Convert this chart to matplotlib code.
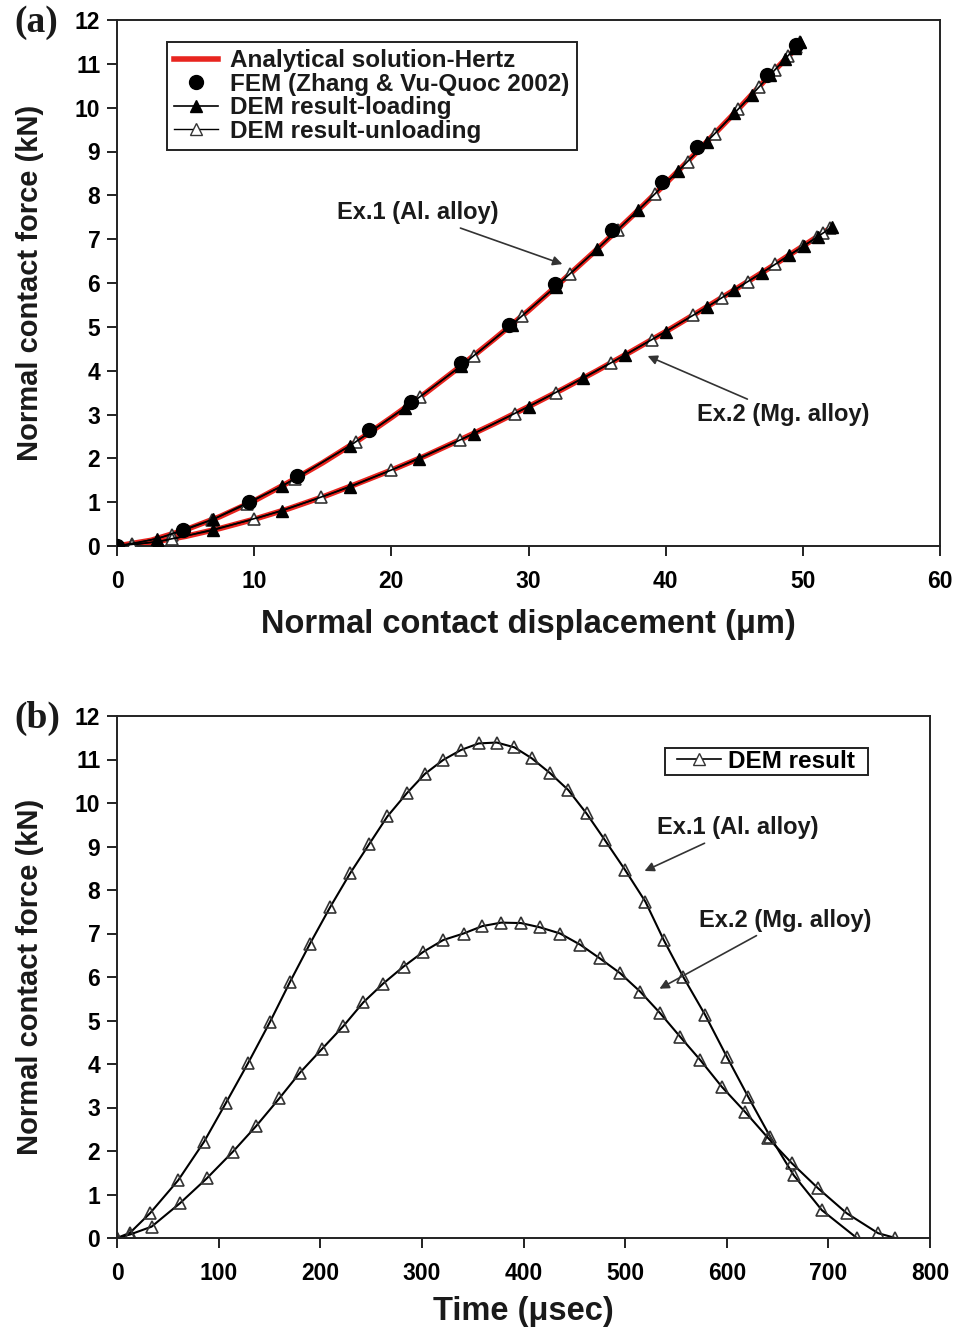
import matplotlib
matplotlib.use("Agg")
import matplotlib.pyplot as plt
from matplotlib.lines import Line2D
from matplotlib.patches import Rectangle

plt.rcParams["font.family"] = ["Liberation Sans", "DejaVu Sans"]
plt.rcParams["font.weight"] = "bold"

# ── (a) force vs displacement ─────────────────────────────
# analytical Hertz curves
hertz_x = [0, 2.5, 5, 7.5, 10, 12.5, 15, 17.5, 20, 22.5, 25, 27.5, 30, 32.5, 35,
           37.5, 40, 42.5, 45, 47.5, 49.8]
hertz_al = [0, 0.13, 0.37, 0.67, 1.03, 1.45, 1.90, 2.39, 2.93, 3.49, 4.09, 4.72,
            5.37, 6.06, 6.77, 7.51, 8.27, 9.06, 9.87, 10.71, 11.45]
hertz_mg_x = [0, 2.5, 5, 7.5, 10, 12.5, 15, 17.5, 20, 22.5, 25, 27.5, 30, 32.5, 35,
              37.5, 40, 42.5, 45, 47.5, 50, 52.1]
hertz_mg = [0, 0.08, 0.22, 0.40, 0.61, 0.85, 1.12, 1.42, 1.73, 2.06, 2.42, 2.79,
            3.18, 3.58, 4.00, 4.44, 4.89, 5.36, 5.84, 6.33, 6.84, 7.27]

# FEM (Zhang & Vu-Quoc 2002), Al alloy
fem_x = [0, 4.8, 9.6, 13.1, 18.4, 21.4, 25.1, 28.6, 31.9, 36.1, 39.7, 42.3, 47.4, 49.5]
fem_y = [0, 0.37, 1.01, 1.60, 2.65, 3.29, 4.18, 5.04, 5.97, 7.20, 8.31, 9.11, 10.74, 11.44]

# DEM loading / unloading, Al alloy
al_load_x = [0, 2.9, 7.0, 12.0, 17.0, 21.0, 25.1, 28.8, 32.0, 35.0, 38.0, 40.9, 43.0,
             45.0, 46.3, 47.6, 48.7, 49.4, 49.8]
al_load_y = [0, 0.16, 0.61, 1.36, 2.29, 3.15, 4.11, 5.05, 5.92, 6.77, 7.66, 8.55, 9.22,
             9.87, 10.30, 10.74, 11.11, 11.35, 11.49]
al_unload_x = [49.8, 49.5, 48.9, 48.0, 46.8, 45.3, 43.6, 41.6, 39.2, 36.5, 33.0, 29.5,
               26.0, 22.1, 17.4, 13.0, 9.5, 6.9, 4.0, 1.1]
al_unload_y = [11.49, 11.39, 11.18, 10.87, 10.47, 9.97, 9.41, 8.77, 8.03, 7.21, 6.20,
               5.24, 4.33, 3.40, 2.37, 1.53, 0.96, 0.59, 0.26, 0.04]

# DEM loading / unloading, Mg alloy
mg_load_x = [0, 3.0, 7.0, 12.0, 17.0, 22.0, 26.0, 30.0, 34.0, 37.0, 40.0, 43.0, 45.0,
             47.0, 49.0, 50.1, 51.1, 52.1]
mg_load_y = [0, 0.10, 0.36, 0.80, 1.35, 1.99, 2.56, 3.18, 3.83, 4.35, 4.89, 5.45, 5.84,
             6.23, 6.63, 6.85, 7.06, 7.27]
mg_unload_x = [52.0, 51.5, 51.0, 50.0, 48.0, 46.0, 44.1, 42.0, 39.0, 36.0, 32.0, 29.0,
               25.0, 20.0, 14.9, 10.0, 4.0, 1.1]
mg_unload_y = [7.25, 7.14, 7.04, 6.84, 6.43, 6.03, 5.66, 5.26, 4.71, 4.18, 3.50, 3.02,
               2.42, 1.73, 1.11, 0.61, 0.15, 0.02]

# ── (b) force vs time ────────────────────────────────────
al_t = [0, 12.8, 32.5, 60.3, 85.6, 107.3, 129.2, 150.6, 170.3, 190, 209.6, 229.3, 248.3,
        266, 285, 303, 321, 338.6, 356, 373.7, 391, 408, 426, 444, 462, 480, 500, 520,
        538, 557, 578.7, 600, 621, 642.7, 665.7, 693.6, 728]
al_f = [0, 0.12, 0.57, 1.33, 2.21, 3.11, 4.03, 4.97, 5.89, 6.77, 7.6, 8.38, 9.06, 9.69,
        10.22, 10.67, 10.99, 11.22, 11.37, 11.39, 11.28, 11.03, 10.69, 10.3, 9.76, 9.15,
        8.46, 7.73, 6.85, 6.01, 5.13, 4.17, 3.25, 2.33, 1.45, 0.64, 0]
mg_t = [0, 12.8, 34, 62, 88.3, 113.9, 136.8, 159.7, 180, 201.5, 222.7, 242.5, 262, 282,
        301.5, 321, 341, 359.5, 378, 397.5, 416.5, 436, 456, 475, 495, 515, 534.4, 554,
        574, 595, 618, 641, 664, 690, 718, 749, 766]
mg_f = [0, 0.08, 0.26, 0.8, 1.37, 1.98, 2.57, 3.21, 3.8, 4.34, 4.87, 5.42, 5.85, 6.24,
        6.58, 6.85, 7.0, 7.17, 7.25, 7.24, 7.14, 7.0, 6.74, 6.43, 6.09, 5.66, 5.17, 4.63,
        4.09, 3.48, 2.9, 2.29, 1.72, 1.14, 0.57, 0.11, 0]

RED = "#e8251f"
TXT = "#1a1a1a"
EDGE = "#222222"
MS = 9
TICK_FS = 16.5
LABEL_X_FS = 23.5
LABEL_Y_FS = 21
NOTE_FS = 17
LEG_FS = 17.5


def style_axes(ax):
    for s in ax.spines.values():
        s.set_linewidth(1.4)
        s.set_color(EDGE)
    ax.tick_params(direction="out", length=7, width=1.4, labelsize=TICK_FS, color=EDGE)
    ax.tick_params(axis="x", pad=10)
    ax.tick_params(axis="y", pad=5)
    for lab in ax.get_xticklabels() + ax.get_yticklabels():
        lab.set_fontweight("bold")


fig = plt.figure(figsize=(9.58, 13.34), dpi=100)

# ---- panel (a)
ax = fig.add_axes([117 / 958, 1 - 546 / 1334, 823 / 958, 526 / 1334])
ax.plot(hertz_x, hertz_al, color=RED, lw=4, zorder=2)
ax.plot(hertz_mg_x, hertz_mg, color=RED, lw=4, zorder=2)
for xs, ys in ((al_load_x, al_load_y), (mg_load_x, mg_load_y)):
    ax.plot(xs, ys, color="black", lw=1.2, marker="^", ms=MS, mfc="black", mec="black",
            zorder=4)
for xs, ys in ((al_unload_x, al_unload_y), (mg_unload_x, mg_unload_y)):
    ax.plot(xs, ys, color="black", lw=1.0, marker="^", ms=MS, mfc="white", mec="#333333",
            mew=1.2, zorder=3)
ax.plot(fem_x, fem_y, ls="none", marker="o", ms=10, color="black", zorder=5)
ax.set_xlim(0, 60)
ax.set_ylim(0, 12)
ax.set_xticks(range(0, 61, 10))
ax.set_yticks(range(0, 13))
ax.set_xlabel("Normal contact displacement (μm)", fontsize=LABEL_X_FS,
              fontweight="bold", labelpad=12, color=TXT)
ax.set_ylabel("Normal contact force (kN)", fontsize=LABEL_Y_FS, fontweight="bold",
              labelpad=22, color=TXT)
style_axes(ax)

handles = [
    Line2D([], [], color=RED, lw=4),
    Line2D([], [], ls="none", marker="o", ms=10, color="black"),
    Line2D([], [], color="black", lw=1.2, marker="^", ms=MS, mfc="black"),
    Line2D([], [], color="black", lw=1.0, marker="^", ms=MS, mfc="white", mec="#333333"),
]
labels = ["Analytical solution-Hertz", "FEM (Zhang & Vu-Quoc 2002)",
          "DEM result-loading", "DEM result-unloading"]
leg = ax.legend(handles, labels, loc="upper left", bbox_to_anchor=(0.061, 0.958),
                borderaxespad=0, fancybox=False, edgecolor=EDGE, framealpha=1,
                prop={"size": LEG_FS, "weight": "bold"}, labelspacing=0.02,
                handlelength=1.8, handletextpad=0.5, borderpad=0.3)
leg.get_frame().set_linewidth(1.4)
for t in leg.get_texts():
    t.set_color(TXT)

arrow = dict(arrowstyle="-|>", color="#333333", lw=1.2, mutation_scale=14)
ax.annotate("Ex.1 (Al. alloy)", xy=(32.66, 6.41), xytext=(21.9, 7.6), ha="center",
            va="center", fontsize=NOTE_FS, fontweight="bold", color=TXT,
            arrowprops=arrow)
ax.annotate("Ex.2 (Mg. alloy)", xy=(38.5, 4.36), xytext=(48.55, 3.0), ha="center",
            va="center", fontsize=NOTE_FS, fontweight="bold", color=TXT,
            arrowprops=arrow)
fig.text(14 / 958, 1 - 22 / 1334, "(a)", family="Liberation Serif", fontsize=27,
         fontweight="bold", va="center", ha="left", color=TXT)

# ---- panel (b)
bx = fig.add_axes([117 / 958, 1 - 1238 / 1334, 813 / 958, 522 / 1334])
for ts, fs in ((al_t, al_f), (mg_t, mg_f)):
    bx.plot(ts, fs, color="black", lw=1.5, marker="^", ms=MS, mfc="none", mec="#333333",
            mew=1.2)
bx.set_xlim(0, 800)
bx.set_ylim(0, 12)
bx.set_xticks(range(0, 801, 100))
bx.set_yticks(range(0, 13))
bx.set_xlabel("Time (μsec)", fontsize=LABEL_X_FS, fontweight="bold", labelpad=8,
              color=TXT)
bx.set_ylabel("Normal contact force (kN)", fontsize=LABEL_Y_FS, fontweight="bold",
              labelpad=22, color=TXT)
style_axes(bx)

# legend box drawn separately: the reference frame is wide but very short
bx.add_patch(Rectangle((0.674, 0.887), 0.2497, 0.0517, transform=bx.transAxes,
                       facecolor="white", edgecolor=EDGE, lw=1.4, zorder=5))
leg2 = bx.legend([Line2D([], [], color="black", lw=1.2, marker="^", ms=MS, mfc="white",
                         mec="#333333")], ["DEM result"], loc="center",
                 bbox_to_anchor=(0.7985, 0.913), borderaxespad=0, frameon=False,
                 prop={"size": LEG_FS, "weight": "bold"},
                 handlelength=1.8, handletextpad=0.3, borderpad=0.0)
leg2.set_zorder(6)
bx.annotate("Ex.1 (Al. alloy)", xy=(516.6, 8.41), xytext=(611, 9.43), ha="center",
            va="center", fontsize=NOTE_FS, fontweight="bold", color=TXT,
            arrowprops=arrow)
bx.annotate("Ex.2 (Mg. alloy)", xy=(531.4, 5.7), xytext=(657.3, 7.31), ha="center",
            va="center", fontsize=NOTE_FS, fontweight="bold", color=TXT,
            arrowprops=arrow)
fig.text(14 / 958, 1 - 718 / 1334, "(b)", family="Liberation Serif", fontsize=27,
         fontweight="bold", va="center", ha="left", color=TXT)

fig.savefig("out.png", dpi=100)
